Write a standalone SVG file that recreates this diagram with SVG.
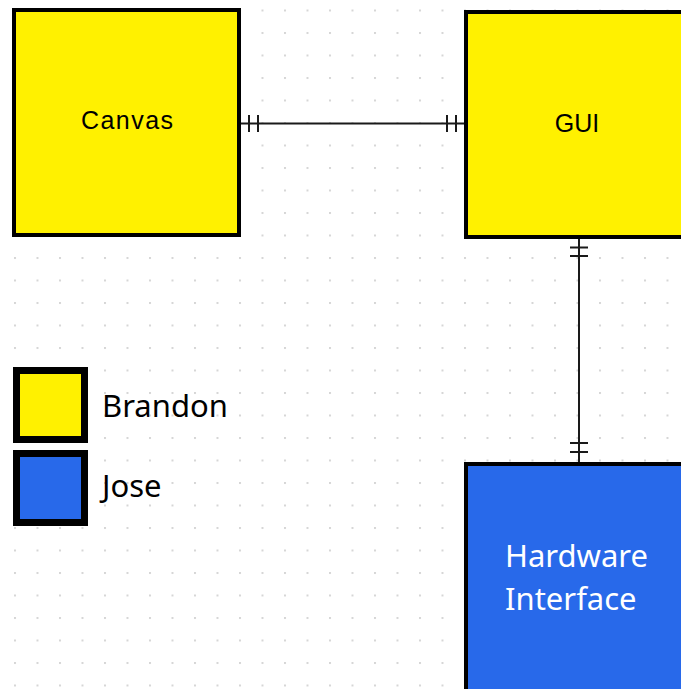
<svg xmlns="http://www.w3.org/2000/svg" width="681" height="689" viewBox="0 0 681 689">
<style>
.yel{fill:#fff100;stroke:#000;stroke-width:4}
.blu{fill:#2869ea;stroke:#000;stroke-width:4}
.lbl{font-family:Arial,"Liberation Sans",sans-serif;font-size:25px;fill:#000;text-anchor:middle}
.leg{font-family:"Noto Sans","Open Sans",sans-serif;font-size:31px;fill:#000}
.wht{font-family:"Noto Sans","Open Sans",sans-serif;font-size:31px;fill:#fff}
.con{stroke:#1a1a1a;stroke-width:2;fill:none}
</style>
<defs>
<pattern id="grid" x="14" y="9.5" width="22.5" height="22.5" patternUnits="userSpaceOnUse">
<rect x="0" y="0" width="2" height="2" fill="#d6d6d6"/>
</pattern>
</defs>
<rect width="681" height="689" fill="#fff"/>
<rect width="681" height="689" fill="url(#grid)"/>
<g id="connectors">
<path class="con" d="M241,123.5H464M249,115V132M258,115V132M447,115V132M456,115V132"/>
<path class="con" d="M579,239V463M570,247.5H588M570,256H588M570,443H588M570,452H588"/>
</g>
<g id="canvas">
<rect class="yel" x="14" y="10" width="225" height="225"/>
<text class="lbl" x="127" y="129" textLength="92" lengthAdjust="spacing">Canvas</text>
</g>
<g id="gui">
<rect class="yel" x="466" y="12" width="240" height="225"/>
<text class="lbl" x="577" y="132">GUI</text>
</g>
<g id="hardware">
<rect class="blu" x="466" y="464" width="240" height="240"/>
<text class="wht" x="505" y="567">Hardware</text>
<text class="wht" x="505" y="610">Interface</text>
</g>
<g id="legend">
<rect x="16.5" y="370.5" width="68" height="69" fill="#fff100" stroke="#000" stroke-width="7"/>
<text class="leg" x="102" y="417">Brandon</text>
<rect x="16.5" y="453.5" width="68" height="69" fill="#2869ea" stroke="#000" stroke-width="7"/>
<text class="leg" x="102" y="497">Jose</text>
</g>
</svg>
